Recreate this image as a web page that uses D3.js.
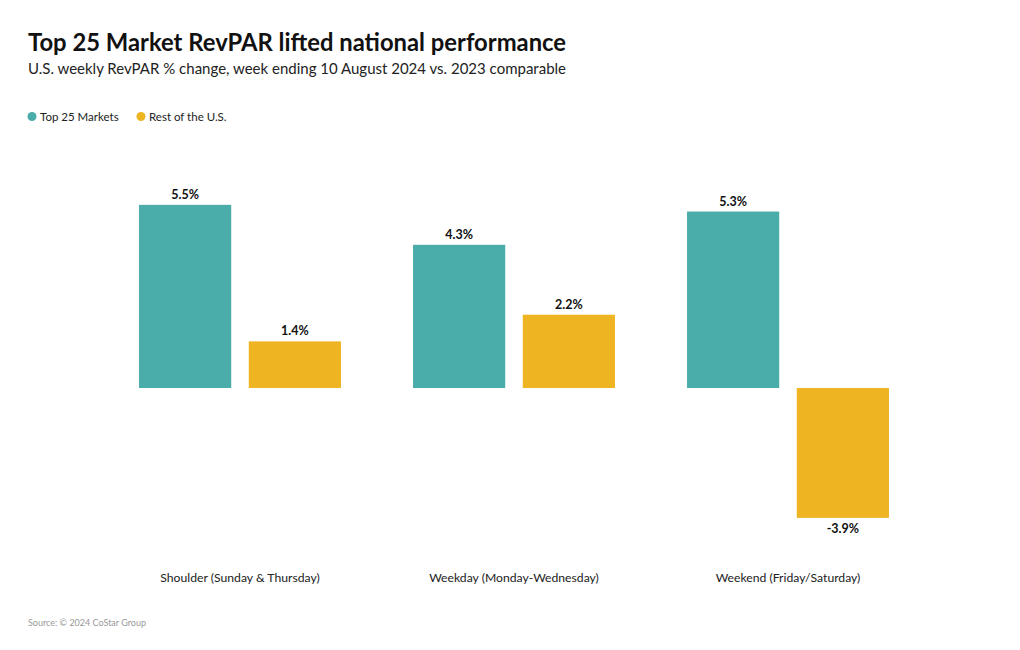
<!DOCTYPE html>
<html>
<head>
<meta charset="utf-8">
<script src="https://cdn.jsdelivr.net/npm/d3@7"></script>
<style>
  body { margin: 0; background: #fff; }
  svg { display: block; font-family: Lato, "Noto Sans", sans-serif; }
</style>
</head>
<body>
<svg id="chart" width="1020" height="650"></svg>
<script>
const categories = ["Shoulder (Sunday & Thursday)", "Weekday (Monday-Wednesday)", "Weekend (Friday/Saturday)"];
const seriesNames = ["Top 25 Markets", "Rest of the U.S."];
const top25Values = [5.5, 4.3, 5.3];
const restValues = [1.4, 2.2, -3.9];
const colors = ["#4BADAA", "#EEB422"];

const title = "Top 25 Market RevPAR lifted national performance";
const subtitle = "U.S. weekly RevPAR % change, week ending 10 August 2024 vs. 2023 comparable";
const source = "Source: © 2024 CoStar Group";

const data = categories.map((c, i) => ({
  category: c,
  values: [
    { key: seriesNames[0], value: top25Values[i] },
    { key: seriesNames[1], value: restValues[i] }
  ]
}));

const svg = d3.select("#chart");

svg.append("text").attr("x", 28).attr("y", 51)
  .attr("font-size", 23.8).attr("font-weight", 700).attr("fill", "#111")
  .text(title);
svg.append("text").attr("x", 28).attr("y", 74)
  .attr("font-size", 15).attr("fill", "#222")
  .text(subtitle);

// legend
const legend = svg.append("g");
const legendX = [32, 141];
seriesNames.forEach((s, i) => {
  legend.append("circle").attr("cx", legendX[i]).attr("cy", 116.5).attr("r", 4.5).attr("fill", colors[i]);
  legend.append("text").attr("x", legendX[i] + 8).attr("y", 120.5)
    .attr("font-size", 11.5).attr("fill", "#222").text(s);
});

const x0 = d3.scaleBand().domain(categories).range([103, 925])
  .paddingInner(0.263).paddingOuter(0.1315);
const x1 = d3.scaleBand().domain(seriesNames).range([0, x0.bandwidth()])
  .paddingInner(0.16).paddingOuter(0);
const y = d3.scaleLinear().domain([-5, 6]).range([388 + 5 * 33.3, 388 - 6 * 33.3]);
const color = d3.scaleOrdinal().domain(seriesNames).range(colors);
const fmt = v => (v < 0 ? "-" : "") + d3.format(".1f")(Math.abs(v)) + "%";

const groups = svg.append("g").selectAll("g").data(data).join("g")
  .attr("transform", d => `translate(${x0(d.category)},0)`);

groups.selectAll("rect").data(d => d.values).join("rect")
  .attr("x", d => x1(d.key))
  .attr("width", x1.bandwidth())
  .attr("y", d => y(Math.max(0, d.value)))
  .attr("height", d => Math.abs(y(d.value) - y(0)))
  .attr("fill", d => color(d.key));

groups.selectAll("text.val").data(d => d.values).join("text")
  .attr("class", "val")
  .attr("x", d => x1(d.key) + x1.bandwidth() / 2)
  .attr("y", d => d.value >= 0 ? y(d.value) - 6 : y(d.value) + 15)
  .attr("text-anchor", "middle")
  .attr("font-size", 12.5).attr("font-weight", 700).attr("fill", "#111")
  .text(d => fmt(d.value));

// category axis labels
const xAxis = d3.axisBottom(x0).tickSize(0).tickPadding(0);
const axisG = svg.append("g").attr("transform", "translate(0,573)").call(xAxis);
axisG.select(".domain").remove();
axisG.selectAll("text").attr("font-size", 12.2).attr("fill", "#222")
  .attr("font-family", "Lato, 'Noto Sans', sans-serif");

svg.append("text").attr("x", 28).attr("y", 626)
  .attr("font-size", 9).attr("fill", "#999").text(source);
</script>
</body>
</html>
